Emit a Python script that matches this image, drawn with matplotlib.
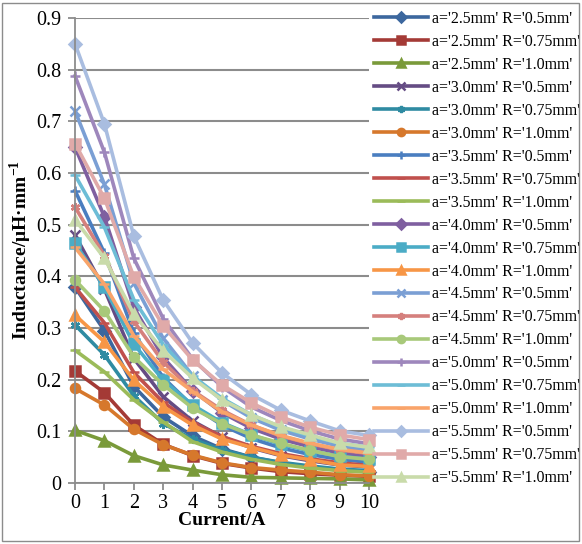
import numpy as np
import matplotlib.pyplot as plt
from matplotlib.patches import Rectangle

plt.rcParams['font.family'] = ['Liberation Serif', 'DejaVu Serif']
plt.rcParams['mathtext.fontset'] = 'custom'
plt.rcParams['mathtext.rm'] = 'Liberation Serif'
plt.rcParams['mathtext.bf'] = 'Liberation Serif:bold'

# current (A)
current = [0, 1, 2, 3, 4, 5, 6, 7, 8, 9, 10]

y_ticks = [0, 0.1, 0.2, 0.3, 0.4, 0.5, 0.6, 0.7, 0.8, 0.9]
y_tick_labels = ['0', '0.1', '0.2', '0.3', '0.4', '0.5', '0.6', '0.7', '0.8', '0.9']

labels = [
    "a='2.5mm' R='0.5mm'", "a='2.5mm' R='0.75mm'", "a='2.5mm' R='1.0mm'",
    "a='3.0mm' R='0.5mm'", "a='3.0mm' R='0.75mm'", "a='3.0mm' R='1.0mm'",
    "a='3.5mm' R='0.5mm'", "a='3.5mm' R='0.75mm'", "a='3.5mm' R='1.0mm'",
    "a='4.0mm' R='0.5mm'", "a='4.0mm' R='0.75mm'", "a='4.0mm' R='1.0mm'",
    "a='4.5mm' R='0.5mm'", "a='4.5mm' R='0.75mm'", "a='4.5mm' R='1.0mm'",
    "a='5.0mm' R='0.5mm'", "a='5.0mm' R='0.75mm'", "a='5.0mm' R='1.0mm'",
    "a='5.5mm' R='0.5mm'", "a='5.5mm' R='0.75mm'", "a='5.5mm' R='1.0mm'",
]

# inductance (uH/mm), one list per series
a25_r050 = [0.379, 0.295, 0.187, 0.128, 0.091, 0.066, 0.050, 0.039, 0.031, 0.025, 0.022]
a25_r075 = [0.217, 0.175, 0.112, 0.075, 0.053, 0.038, 0.029, 0.022, 0.018, 0.015, 0.013]
a25_r100 = [0.102, 0.082, 0.053, 0.035, 0.025, 0.016, 0.011, 0.010, 0.009, 0.008, 0.006]
a30_r050 = [0.480, 0.375, 0.241, 0.167, 0.120, 0.089, 0.068, 0.053, 0.043, 0.035, 0.031]
a30_r075 = [0.306, 0.248, 0.169, 0.115, 0.085, 0.064, 0.050, 0.040, 0.033, 0.027, 0.024]
a30_r100 = [0.183, 0.151, 0.104, 0.074, 0.054, 0.039, 0.030, 0.025, 0.021, 0.016, 0.014]
a35_r050 = [0.566, 0.445, 0.290, 0.204, 0.149, 0.112, 0.086, 0.068, 0.055, 0.046, 0.040]
a35_r075 = [0.379, 0.310, 0.214, 0.156, 0.117, 0.090, 0.071, 0.057, 0.047, 0.039, 0.034]
a35_r100 = [0.257, 0.215, 0.161, 0.118, 0.080, 0.060, 0.046, 0.036, 0.029, 0.024, 0.021]
a40_r050 = [0.650, 0.515, 0.340, 0.243, 0.179, 0.136, 0.106, 0.085, 0.070, 0.058, 0.051]
a40_r075 = [0.464, 0.379, 0.269, 0.199, 0.151, 0.117, 0.093, 0.075, 0.062, 0.052, 0.046]
a40_r100 = [0.325, 0.273, 0.199, 0.148, 0.112, 0.085, 0.069, 0.054, 0.045, 0.035, 0.032]
a45_r050 = [0.720, 0.578, 0.387, 0.280, 0.208, 0.160, 0.126, 0.102, 0.085, 0.071, 0.063]
a45_r075 = [0.534, 0.440, 0.313, 0.234, 0.179, 0.141, 0.112, 0.091, 0.076, 0.064, 0.057]
a45_r100 = [0.393, 0.333, 0.244, 0.190, 0.145, 0.115, 0.093, 0.077, 0.063, 0.051, 0.046]
a50_r050 = [0.788, 0.640, 0.435, 0.318, 0.240, 0.186, 0.147, 0.121, 0.101, 0.085, 0.076]
a50_r075 = [0.596, 0.495, 0.355, 0.268, 0.207, 0.164, 0.132, 0.108, 0.091, 0.077, 0.069]
a50_r100 = [0.456, 0.385, 0.285, 0.220, 0.177, 0.138, 0.112, 0.092, 0.077, 0.065, 0.058]
a55_r050 = [0.850, 0.695, 0.478, 0.354, 0.271, 0.213, 0.171, 0.141, 0.120, 0.101, 0.092]
a55_r075 = [0.657, 0.551, 0.399, 0.304, 0.238, 0.190, 0.155, 0.128, 0.108, 0.093, 0.084]
a55_r100 = [0.510, 0.435, 0.327, 0.256, 0.203, 0.161, 0.132, 0.109, 0.093, 0.077, 0.069]

series = [a25_r050, a25_r075, a25_r100, a30_r050, a30_r075, a30_r100,
          a35_r050, a35_r075, a35_r100, a40_r050, a40_r075, a40_r100,
          a45_r050, a45_r075, a45_r100, a50_r050, a50_r075, a50_r100,
          a55_r050, a55_r075, a55_r100]

colors = ['#3C679E', '#A43A36', '#7A9A3A', '#654C84', '#2F8BA2', '#D6782C',
          '#4A7EC0', '#C0504D', '#9BBB59', '#7F5FA0', '#4BACC6', '#F79646',
          '#7B9FD4', '#D5807D', '#A8C97A', '#9E87BC', '#6DBDD6', '#F9A46A',
          '#A9BDE0', '#E0AAA9', '#C9DBAA']
star = (6, 2, 0)
markers = ['D', 's', '^', 'x', star, 'o', '+', '_', '_',
           'D', 's', '^', 'x', star, 'o', '+', '_', '_',
           'D', 's', '^']

fig = plt.figure(figsize=(5.82, 5.44), dpi=100)
ax = fig.add_axes([0.1289, 0.1121, 0.5052, 0.8548])

for vals, lab, c, m in zip(series, labels, colors, markers):
    ax.plot(current, vals, color=c, lw=2.6, marker=m, markersize=6.5,
            markeredgewidth=1.8, label=lab, clip_on=False)

ax.set_xlim(0, 10)
ax.set_ylim(0, 0.9)
ax.set_xticks(current)
ax.set_yticks(y_ticks)
ax.set_yticklabels(y_tick_labels)
ax.grid(axis='y', color='#8C8C8C', lw=1.5)
ax.set_axisbelow(True)
for s in ['top', 'right']:
    ax.spines[s].set_visible(False)
for s in ['left', 'bottom']:
    ax.spines[s].set_color('#8C8C8C')
    ax.spines[s].set_linewidth(1.3)
ax.tick_params(axis='both', colors='#8C8C8C', length=5, width=1.3,
               labelsize=14.5, labelcolor='black')
ax.tick_params(axis='y', pad=5)
ax.tick_params(axis='x', pad=3)

ax.set_xlabel('Current/A', fontsize=14, fontweight='bold', labelpad=-1)
ax.set_ylabel('Inductance/μH·mm$^{\\mathbf{-1}}$', fontsize=14,
              fontweight='bold', labelpad=1)

ax.legend(loc='upper left', bbox_to_anchor=(0.643, 0.980),
          bbox_transform=fig.transFigure, frameon=False, fontsize=11.4,
          handlelength=3.4, handletextpad=0.25, labelspacing=0.44,
          borderaxespad=0, borderpad=0, markerscale=0.8)

fig.patches.append(Rectangle((0.004, 0.005), 0.99, 0.989, transform=fig.transFigure,
                             fill=False, edgecolor='#8C8C8C', lw=1))

fig.savefig('out.png', dpi=100)
